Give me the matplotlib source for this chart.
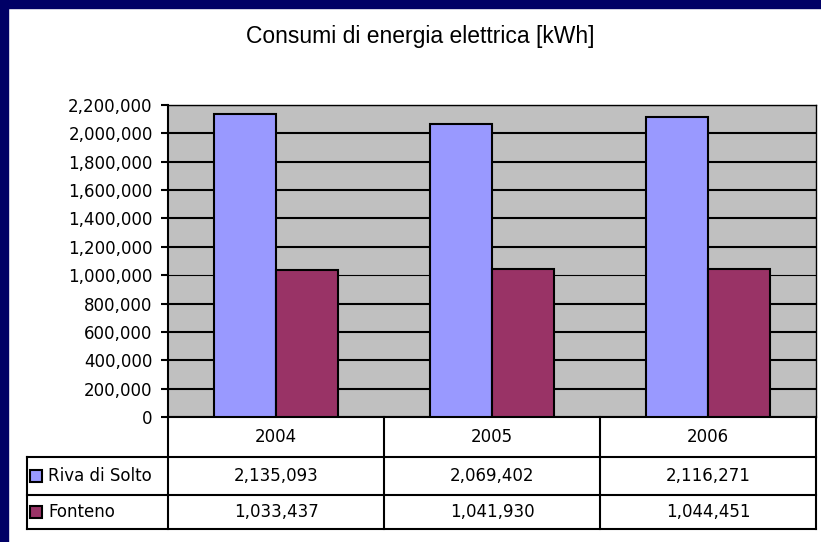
import matplotlib.pyplot as plt
import numpy as np
from matplotlib.patches import Rectangle

years = ['2004', '2005', '2006']
series = ['Riva di Solto', 'Fonteno']
riva = [2135093, 2069402, 2116271]
fonteno = [1033437, 1041930, 1044451]
colors = ['#9999FF', '#993366']
yticks = list(range(0, 2200001, 200000))

plt.rcParams['font.family'] = ['DejaVu Sans']

W, H = 821, 542
def fy(py):
    return 1 - py / H

fig = plt.figure(figsize=(8.21, 5.42), dpi=100)
fig.patch.set_facecolor('white')
# navy frame (only top and left visible)
fig.add_artist(Rectangle((0, fy(8)), 1, 8 / H, transform=fig.transFigure, color='#000066', zorder=0))
fig.add_artist(Rectangle((0, 0), 8 / W, 1, transform=fig.transFigure, color='#000066', zorder=0))

fig.text(420 / W, fy(37), 'Consumi di energia elettrica [kWh]', ha='center', va='center',
         fontsize=16.5, family='Liberation Sans')

# plot area
left, right, top, bottom = 168, 816, 105, 417
ax = fig.add_axes([left / W, fy(bottom), (right - left) / W, (bottom - top) / H])
ax.set_facecolor('#C0C0C0')
x = np.arange(len(years)) + 0.5
w = 0.288
ax.bar(x - w, riva, w, align='edge', color=colors[0], edgecolor='black', linewidth=1.5, zorder=3)
ax.bar(x, fonteno, w, align='edge', color=colors[1], edgecolor='black', linewidth=1.5, zorder=3)
ax.set_xlim(0, 3)
ax.set_ylim(0, 2200000)
ax.set_yticks(yticks)
ax.set_yticklabels([f'{v:,}' for v in yticks], fontsize=12)
ax.set_xticks([])
ax.yaxis.grid(True, color='black', linewidth=1.5)
ax.get_ygridlines()[5].set_linewidth(0.8)
ax.set_axisbelow(True)
ax.tick_params(axis='y', length=5, width=1.5, pad=6, color='black')
for s in ['left', 'bottom']:
    ax.spines[s].set_linewidth(1.5)
for s in ['top', 'right']:
    ax.spines[s].set_linewidth(1.0)

# data table below the plot
rows = [0, 40, 78, 112]
tax = fig.add_axes([left / W, fy(529), (right - left) / W, rows[-1] / H])
tax.set_xlim(0, 3)
tax.set_ylim(rows[-1], 0)
tax.axis('off')
colw = (right - left) / 3
def px2x(px):
    return (px - left) / colw
xl = px2x(27)
lk = dict(color='black', linewidth=1.5, clip_on=False, solid_capstyle='projecting')
for i in range(4):
    tax.plot([i, i], [rows[0], rows[-1]], **lk)
for r in rows[1:]:
    tax.plot([xl, 3], [r, r], **lk)
tax.plot([xl, xl], [rows[1], rows[-1]], **lk)

for i, yr in enumerate(years):
    tax.text(i + 0.5, (rows[0] + rows[1]) / 2, yr, ha='center', va='center', fontsize=12)
for j, (name, vals) in enumerate(zip(series, [riva, fonteno])):
    yc = (rows[j + 1] + rows[j + 2]) / 2
    tax.add_patch(Rectangle((px2x(30), yc - 6), 12 / colw, 12, facecolor=colors[j],
                            edgecolor='black', linewidth=1.5, clip_on=False))
    tax.text(px2x(48), yc, name, ha='left', va='center', fontsize=12)
    for i, v in enumerate(vals):
        tax.text(i + 0.5, yc, f'{v:,}', ha='center', va='center', fontsize=12)

fig.savefig('out.png', dpi=100)
